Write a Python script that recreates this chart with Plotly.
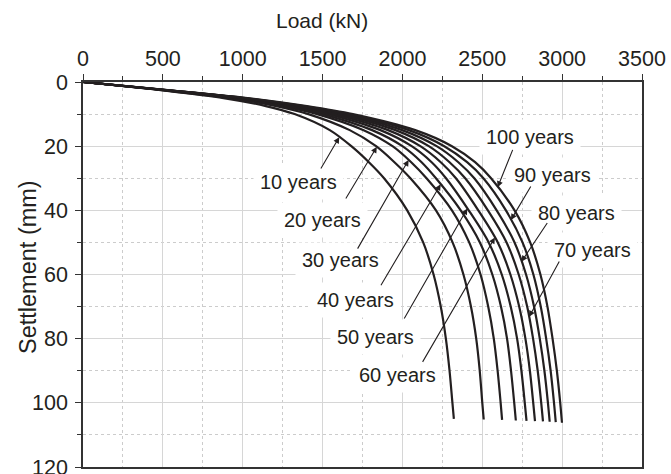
import numpy as np
import plotly.graph_objects as go

settlement = [0, 2.5, 5, 7.5, 10, 15, 20, 25, 30, 40, 50, 60, 70, 80, 90, 100]

# Load (kN) read for each curve at the settlement levels above, plus the end point
load_10y = [0, 475, 880, 1145, 1325, 1545, 1680, 1790, 1885, 2030, 2130, 2195, 2240, 2272, 2295, 2313, 2322]
load_20y = [0, 489, 918, 1210, 1411, 1670, 1835, 1950, 2050, 2210, 2314, 2382, 2429, 2462, 2484, 2500, 2509]
load_30y = [0, 498, 943, 1248, 1466, 1757, 1938, 2055, 2151, 2310, 2418, 2489, 2537, 2572, 2596, 2615, 2624]
load_40y = [0, 503, 958, 1274, 1500, 1810, 2000, 2120, 2210, 2365, 2485, 2563, 2617, 2655, 2680, 2700, 2710]
load_50y = [0, 508, 972, 1299, 1536, 1862, 2058, 2183, 2273, 2415, 2540, 2622, 2678, 2718, 2745, 2766, 2777]
load_60y = [0, 512, 984, 1320, 1570, 1910, 2112, 2240, 2335, 2475, 2597, 2676, 2731, 2770, 2798, 2819, 2830]
load_70y = [0, 516, 996, 1342, 1602, 1956, 2165, 2295, 2393, 2535, 2652, 2728, 2781, 2818, 2847, 2869, 2880]
load_80y = [0, 520, 1007, 1362, 1632, 1998, 2214, 2350, 2450, 2590, 2702, 2774, 2824, 2860, 2889, 2911, 2922]
load_90y = [0, 524, 1018, 1382, 1660, 2040, 2262, 2405, 2507, 2648, 2752, 2820, 2866, 2900, 2928, 2949, 2960]
load_100y = [0, 530, 1030, 1402, 1690, 2080, 2310, 2455, 2555, 2702, 2800, 2864, 2908, 2940, 2967, 2988, 2999]

end_settlement = [105.0, 105.2, 105.3, 105.5, 105.6, 105.7, 105.8, 105.9, 106.0, 106.2]

labels = ["10 years", "20 years", "30 years", "40 years", "50 years",
          "60 years", "70 years", "80 years", "90 years", "100 years"]
loads = [load_10y, load_20y, load_30y, load_40y, load_50y,
         load_60y, load_70y, load_80y, load_90y, load_100y]

# Label text positions (load, settlement), arrow tails and arrow-tip settlements
label_pos = [(1352, 31.1), (1500, 43.0), (1614, 55.5), (1708, 67.9), (1833, 79.4),
             (1969, 91.3), (3190, 52.4), (3087, 40.8), (2940, 29.0), (2801, 17.0)]
arrow_tail = [(1484, 27.4), (1640, 36.8), (1714, 52.4), (1860, 63.8), (2006, 74.2),
              (2121, 87.7), (2987, 55.5), (2913, 43.5), (2809, 32.1), (2694, 20.7)]
tip_settlement = [17.2, 20.2, 24.3, 31.9, 39.4, 48.5, 73.2, 56.0, 43.0, 32.8]

FONT = "Arial, Liberation Sans, Helvetica, sans-serif"
INK = "#231f20"

fig = go.Figure()
for name, ld, se in zip(labels, loads, end_settlement):
    s = settlement + [se]
    fig.add_trace(go.Scatter(x=ld, y=s, mode="lines", name=name,
                             line=dict(color=INK, width=2.2, shape="spline", smoothing=0.9),
                             showlegend=False, hoverinfo="skip"))

annotations = []
for name, (tx, ty) in zip(labels, label_pos):
    annotations.append(dict(x=tx, y=ty, xref="x", yref="y", text=name, showarrow=False,
                            font=dict(family=FONT, size=20, color=INK),
                            bgcolor="white", borderpad=6))
for i, name in enumerate(labels):
    s = settlement + [end_settlement[i]]
    ts = tip_settlement[i]
    tp = float(np.interp(ts, s, loads[i]))
    ax_, ay_ = arrow_tail[i]
    annotations.append(dict(x=tp, y=ts, xref="x", yref="y", ax=ax_, ay=ay_,
                            axref="x", ayref="y", text="", showarrow=True,
                            arrowhead=2, arrowsize=1.1, arrowwidth=1.1, arrowcolor=INK))

# axis titles
annotations.append(dict(x=0.4267, y=1.161, xref="paper", yref="paper", text="Load (kN)",
                        showarrow=False, xanchor="center", yanchor="middle",
                        font=dict(family=FONT, size=21, color=INK)))
annotations.append(dict(x=-0.0984, y=0.5195, xref="paper", yref="paper", text="Settlement (mm)",
                        showarrow=False, xanchor="center", yanchor="middle", textangle=-90,
                        font=dict(family=FONT, size=23.5, color=INK)))

grid_major = "#d6d6d6"
grid_minor = "#cccccc"

fig.update_layout(
    width=671, height=474,
    margin=dict(l=83, r=29, t=82, b=7, autoexpand=False),
    paper_bgcolor="white", plot_bgcolor="white",
    font=dict(family=FONT, size=19, color=INK),
    annotations=annotations,
    xaxis=dict(
        side="top", range=[0, 3500], tick0=0, dtick=500,
        showline=True, linecolor="#333333", linewidth=1.5, mirror=True,
        ticks="outside", ticklen=6, tickwidth=1.2, tickcolor="#333333",
        showgrid=True, gridcolor=grid_major, gridwidth=1,
        minor=dict(dtick=250, ticks="outside", ticklen=4, tickcolor="#333333",
                   showgrid=True, gridcolor=grid_minor, griddash="dot", gridwidth=1),
        zeroline=False, ticklabeloverflow="allow",
        tickfont=dict(family=FONT, size=21.5, color=INK),
        automargin=False,
    ),
    yaxis=dict(
        range=[120, 0], tick0=0, dtick=20,
        showline=True, linecolor="#333333", linewidth=1.5, mirror=True,
        ticks="outside", ticklen=6, tickwidth=1.2, tickcolor="#333333",
        showgrid=True, gridcolor=grid_major, gridwidth=1,
        minor=dict(dtick=10, ticks="outside", ticklen=4, tickcolor="#333333",
                   showgrid=True, gridcolor=grid_minor, griddash="dot", gridwidth=1),
        zeroline=False, ticklabeloverflow="allow", ticklabelstandoff=3,
        tickfont=dict(family=FONT, size=21.5, color=INK),
        automargin=False,
    ),
)

fig.write_html("out.html")
